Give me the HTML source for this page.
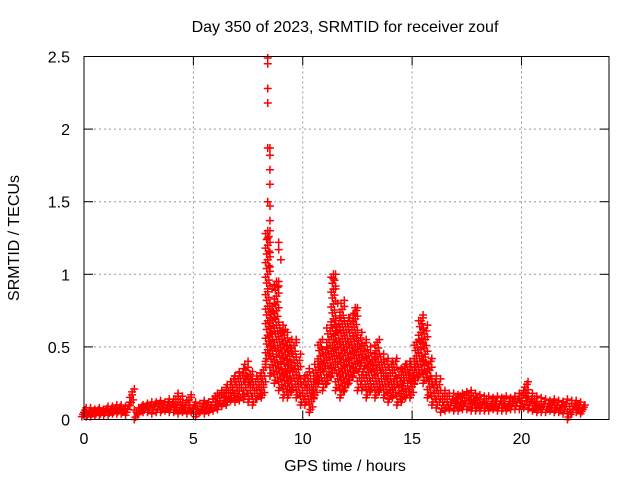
<!DOCTYPE html>
<html><head><meta charset="utf-8"><style>
body{margin:0;background:#fff}
svg{display:block;font-family:"Liberation Sans",sans-serif}
</style></head><body>
<svg id="chart" width="640" height="480" viewBox="0 0 640 480">
<rect x="0" y="0" width="640" height="480" fill="#fff"/>
<text x="345" y="32" font-size="16" text-anchor="middle">Day 350 of 2023, SRMTID for receiver zouf</text>
<text transform="translate(19,238) rotate(-90)" font-size="16" text-anchor="middle">SRMTID / TECUs</text>
<text x="345" y="471" font-size="16" text-anchor="middle">GPS time / hours</text>
<g id="grid"></g>
<g id="marks"></g>
<rect x="84" y="56.5" width="525" height="363" fill="none" stroke="#000" stroke-width="1"/>
<g id="ticks"></g>
</svg>
<script>
const xTicks=[0,5,10,15,20];
const yTicks=[0,0.5,1,1.5,2,2.5];
const yTickLabels=["0","0.5","1","1.5","2","2.5"];
const times=[0,0.2,0.4,0.6,0.8,1,1.2,1.4,1.6,1.8,2,2.2,2.4,2.6,2.8,3,3.2,3.4,3.6,3.8,4,4.2,4.4,4.6,4.8,5,5.2,5.4,5.6,5.8,6,6.2,6.4,6.6,6.8,7,7.2,7.4,7.6,7.8,8,8.2,8.4,8.6,8.8,9,9.2,9.4,9.6,9.8,10,10.2,10.4,10.6,10.8,11,11.2,11.4,11.6,11.8,12,12.2,12.4,12.6,12.8,13,13.2,13.4,13.6,13.8,14,14.2,14.4,14.6,14.8,15,15.2,15.4,15.6,15.8,16,16.2,16.4,16.6,16.8,17,17.2,17.4,17.6,17.8,18,18.2,18.4,18.6,18.8,19,19.2,19.4,19.6,19.8,20,20.2,20.4,20.6,20.8,21,21.2,21.4,21.6,21.8,22,22.2,22.4,22.6,22.8];
const lowVals=[.02,.02,.02,.03,.03,.03,.03,.04,.04,.04,.03,.10,.00,.04,.05,.05,.04,.05,.05,.06,.05,.05,.04,.05,.04,.05,.02,.05,.04,.05,.06,.07,.09,.10,.13,.12,.13,.14,.12,.10,.14,.15,.40,.30,.25,.20,.15,.15,.20,.15,.10,.10,.05,.15,.25,.20,.25,.30,.20,.15,.20,.25,.30,.20,.20,.15,.20,.15,.20,.15,.12,.15,.10,.12,.15,.15,.25,.30,.25,.15,.10,.08,.05,.06,.07,.06,.06,.07,.07,.06,.06,.06,.06,.06,.07,.06,.06,.06,.07,.07,.07,.08,.07,.06,.05,.05,.05,.06,.05,.05,.04,.00,.05,.05,.04];
const midVals=[.05,.04,.05,.05,.05,.06,.06,.06,.07,.06,.07,.17,.05,.08,.08,.08,.09,.09,.08,.10,.09,.10,.10,.08,.10,.08,.07,.09,.08,.10,.12,.13,.15,.18,.22,.22,.24,.28,.24,.20,.22,.24,.90,.55,.45,.40,.35,.30,.35,.28,.20,.22,.18,.28,.38,.35,.45,.55,.40,.35,.40,.45,.50,.35,.35,.38,.35,.32,.32,.30,.28,.28,.22,.25,.25,.28,.40,.50,.45,.28,.22,.18,.12,.12,.12,.11,.12,.13,.13,.12,.11,.10,.11,.10,.11,.10,.11,.10,.11,.12,.13,.15,.12,.11,.10,.09,.09,.10,.08,.08,.09,.07,.09,.08,.07];
const highVals=[.08,.08,.07,.08,.07,.09,.09,.10,.10,.09,.12,.21,.08,.10,.11,.12,.12,.13,.12,.14,.14,.18,.16,.13,.17,.12,.11,.13,.12,.14,.18,.20,.22,.26,.30,.32,.35,.40,.33,.30,.32,.38,1.30,.80,.95,.65,.60,.55,.55,.45,.30,.35,.30,.40,.55,.50,.65,1.00,.70,.82,.70,.72,.77,.60,.55,.50,.45,.55,.45,.42,.40,.42,.35,.38,.40,.40,.55,.70,.65,.42,.30,.28,.20,.18,.18,.17,.18,.19,.20,.18,.17,.16,.16,.15,.16,.15,.16,.15,.16,.18,.20,.26,.18,.16,.15,.14,.13,.14,.13,.12,.14,.13,.13,.12,.10];
const spikeTimes=[8.4,8.4,8.4,8.4,8.4,8.5,8.5,8.5,8.5,8.4,8.5,8.4,8.5,8.4,8.5,8.4,8.5,8.9,8.9,9.0,8.8,8.9,8.6,11.4,11.4,11.5,11.6,12.4,15.5,15.4,9.2,9.0,8.6,8.7];
const spikeVals=[2.49,2.45,2.28,2.18,1.87,1.87,1.82,1.72,1.62,1.50,1.47,1.30,1.37,1.25,1.15,1.10,1.05,1.22,1.17,1.10,0.95,0.92,0.90,1.00,0.97,0.90,0.80,0.77,0.72,0.68,0.62,0.60,0.75,0.70];

const X0=84,PX=21.875,Y0=419.5,PY=145.2;
const xs=t=>X0+t*PX, ys=v=>Y0-v*PY;
const NS="http://www.w3.org/2000/svg";
function mk(tag,attrs,parent){const e=document.createElementNS(NS,tag);for(const k in attrs)e.setAttribute(k,attrs[k]);parent.appendChild(e);return e;}
const grid=document.getElementById('grid'),ticks=document.getElementById('ticks'),marks=document.getElementById('marks');
xTicks.forEach(t=>{
  const x=xs(t);
  if(t>0){const g=mk('line',{x1:x,y1:56.5,x2:x,y2:419.5,stroke:'#999','stroke-dasharray':'2,3'},grid);
  
  }
  const a=mk('line',{x1:x,y1:419.5,x2:x,y2:410.5,stroke:'#000'},ticks);
  
  
  const b=mk('line',{x1:x,y1:56.5,x2:x,y2:65.5,stroke:'#000'},ticks);
  
  
  const l=mk('text',{x:x,y:444,'font-size':16,'text-anchor':'middle'},ticks);l.textContent=String(t);
  
  
});
yTicks.forEach((v,i)=>{
  const y=ys(v);
  if(v>0&&v<2.5){const g=mk('line',{x1:84,y1:y,x2:609,y2:y,stroke:'#999','stroke-dasharray':'2,3'},grid);
  
  }
  const a=mk('line',{x1:84,y1:y,x2:93,y2:y,stroke:'#000'},ticks);
  
  
  const b=mk('line',{x1:600,y1:y,x2:609,y2:y,stroke:'#000'},ticks);
  
  
  const l=mk('text',{x:70,y:y+6,'font-size':16,'text-anchor':'end'},ticks);l.textContent=yTickLabels[i];
  
  
});
function plus(t,v,color){
  const x=xs(t),y=ys(v);
  const p=mk('path',{d:`M${x-4},${y}h8M${x},${y-4}v8`,stroke:color,'stroke-width':1.5,fill:'none'},marks);
  
  
}
// each time step is drawn as a band of markers spanning its low..high range
times.forEach((t,i)=>{
  const lo=lowVals[i],mid=midVals[i],hi=highVals[i];
  const pts=[lo,mid,hi];
  const n1=Math.max(2,Math.round((mid-lo)/0.02)), n2=Math.max(2,Math.round((hi-mid)/0.02));
  for(let k=1;k<n1;k++)pts.push(lo+(mid-lo)*k/n1);
  for(let k=1;k<n2;k++)pts.push(mid+(hi-mid)*k/n2);
  pts.forEach((v,j)=>{
    const dx=((j*37)%5-2)*0.05;
    plus(t+dx,v,'#f00');
  });
});
spikeTimes.forEach((t,i)=>plus(t,spikeVals[i],'#f00'));
</script>
</body></html>
